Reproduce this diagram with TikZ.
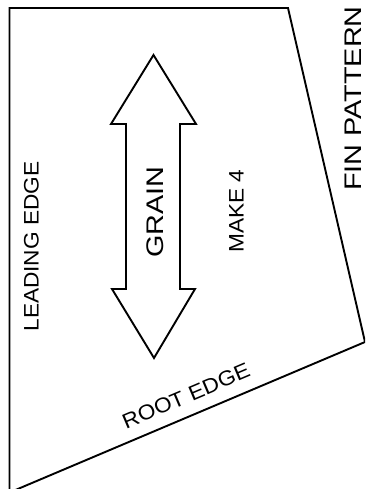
\documentclass[tikz,border=0pt]{standalone}
\usepackage{fontspec}
\setmainfont{Liberation Sans}
\begin{document}
\begin{tikzpicture}[x=1pt,y=-1pt]
\tikzset{outline/.style={draw, line width=1.9pt, line join=miter},
  biglbl/.style={inner sep=0pt, xscale=1.2, font=\fontsize{24}{24}\selectfont},
  lbl/.style={inner sep=0pt, xscale=1.08, font=\fontsize{21}{21}\selectfont}}
\useasboundingbox (0,0) rectangle (365,489);
\clip (0,0) rectangle (365,489);
\draw[outline] (9.5,8) -- (288,8) -- (365,342) -- (9.5,492.5) -- cycle;
\draw[outline] (153.5,55) -- (196,124) -- (180,124) -- (180,289) -- (195,289) -- (154,358)
  -- (112,289) -- (126,289) -- (126,124) -- (111,124) -- cycle;
\node[rotate=90, biglbl] (fin) at (353.5,98.5) {FIN PATTERN};
\node[rotate=90, biglbl] (grain) at (155,212) {GRAIN};
\node[rotate=90, lbl] (make) at (236.5,211) {MAKE 4};
\node[rotate=90, lbl] (leading) at (31.5,246.5) {LEADING EDGE};
\node[rotate=23, lbl] (root) at (186,396) {ROOT EDGE};
\end{tikzpicture}
\end{document}
